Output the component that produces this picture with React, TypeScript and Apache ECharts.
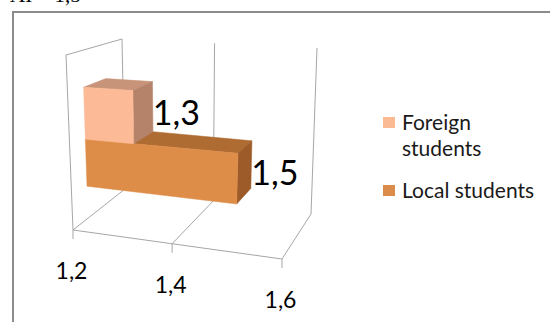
import React, { useEffect, useRef } from "react";
import * as echarts from "echarts";

// ---- data ----
const categories = ["Students"];
const seriesNames = ["Local students", "Foreign students"];
const localValues = [1.5];
const foreignValues = [1.3];
const axisTicks = [1.2, 1.4, 1.6];
const tickLabels = ["1,2", "1,4", "1,6"];
const legendLabels = ["Foreign\nstudents", "Local students"];
const headerText = "AI = 1,5";

// ---- 3D frame (screen corners of the plot box, [u][d][h]) ----
const BOX: number[][][][] = [
  [
    [[73, 230], [66, 55]],
    [[125, 189], [122, 39]],
  ],
  [
    [[282, 259], [291, 65]],
    [[311, 214], [317, 48]],
  ],
];
const DEPTH = [
  [1 / 175, 1 / 150],
  [1 / 194, 1 / 166],
];
function proj(u: number, d: number, h: number): number[] {
  let sx = 0, sy = 0, sw = 0;
  for (let iu = 0; iu < 2; iu++)
    for (let id = 0; id < 2; id++)
      for (let ih = 0; ih < 2; ih++) {
        const w =
          (iu ? u : 1 - u) * (id ? d : 1 - d) * (ih ? h : 1 - h) * DEPTH[iu][id];
        const p = BOX[iu][id][ih];
        sx += w * p[0];
        sy += w * p[1];
        sw += w;
      }
  return [sx / sw, sy / sw];
}

const GRID_COLOR = "#A6A6A6";
const FONT = "Lato, 'Open Sans', sans-serif";
const BAR_D0 = 0.26;
const BAR_D1 = 0.66;
const LAYERS = [
  { h0: 0.19, h1: 0.47, front: "#DE8D48", top: "#AE6C33", side: "#9C5B28" },
  { h0: 0.47, h1: 0.78, front: "#FCBB96", top: "#C79479", side: "#B5836A" },
];
const LEGEND_COLORS = ["#F9BA94", "#DC8C4A"];

function fmt(v: number) {
  return String(v).replace(".", ",");
}

export default function App() {
  const ref = useRef<HTMLDivElement>(null);
  useEffect(() => {
    if (!ref.current) return;
    const chart = echarts.init(ref.current, null, { renderer: "svg" });

    const uOf = (api: any, params: any, v: number) => {
      const cs = params.coordSys;
      return (api.coord([v, 0])[0] - cs.x) / cs.width;
    };

    const frameSeries = {
      type: "custom",
      name: "frame",
      coordinateSystem: "cartesian2d",
      clip: false,
      silent: true,
      z: 1,
      data: axisTicks.map((v) => [v, 0]),
      renderItem: (params: any, api: any) => {
        const u = uOf(api, params, api.value(0));
        const ls = { stroke: GRID_COLOR, lineWidth: 1, fill: null };
        const children: any[] = [];
        const line = (a: number[], b: number[]) =>
          children.push({
            type: "line",
            shape: { x1: a[0], y1: a[1], x2: b[0], y2: b[1] },
            style: ls,
          });
        line(proj(u, 1, 0), proj(u, 1, 1));
        line(proj(u, 0, 0), proj(u, 1, 0));
        const p = proj(u, 0, 0);
        line(p, [p[0], p[1] + 9]);
        children.push({
          type: "text",
          style: {
            text: tickLabels[params.dataIndex],
            x: p[0] - 1.5,
            y: p[1] + 40,
            align: "center",
            verticalAlign: "middle",
            font: `23px ${FONT}`,
            fill: "#000",
          },
        });
        if (params.dataIndex === 0) {
          const uEnd = uOf(api, params, axisTicks[axisTicks.length - 1]);
          line(proj(u, 0, 0), proj(u, 0, 1));
          line(proj(u, 0, 1), proj(u, 1, 1));
          line(proj(u, 0, 0), proj(uEnd, 0, 0));
        }
        return { type: "group", children };
      },
    };

    const barSeries = (name: string, values: number[], layer: any) => ({
      type: "custom",
      name,
      coordinateSystem: "cartesian2d",
      clip: false,
      z: 2,
      data: values.map((v, i) => [v, i]),
      renderItem: (params: any, api: any) => {
        const u0 = uOf(api, params, axisTicks[0]);
        const v = api.value(0);
        const u1 = uOf(api, params, v);
        const { h0, h1 } = layer;
        const poly = (pts: number[][], fill: string) => ({
          type: "polygon",
          shape: { points: pts },
          style: { fill, stroke: fill, lineWidth: 0.5 },
        });
        const top = poly(
          [proj(u0, BAR_D0, h1), proj(u1, BAR_D0, h1), proj(u1, BAR_D1, h1), proj(u0, BAR_D1, h1)],
          layer.top
        );
        const side = poly(
          [proj(u1, BAR_D0, h0), proj(u1, BAR_D0, h1), proj(u1, BAR_D1, h1), proj(u1, BAR_D1, h0)],
          layer.side
        );
        const front = poly(
          [proj(u0, BAR_D0, h0), proj(u1, BAR_D0, h0), proj(u1, BAR_D0, h1), proj(u0, BAR_D0, h1)],
          layer.front
        );
        const lx = proj(u1, BAR_D1, (h0 + h1) / 2)[0];
        const ly = proj(u1, (BAR_D0 + BAR_D1) / 2, (h0 + h1) / 2)[1];
        const label = {
          type: "text",
          style: {
            text: fmt(v),
            x: lx,
            y: ly,
            align: "left",
            verticalAlign: "middle",
            font: `34px ${FONT}`,
            fill: "#000",
          },
        };
        return { type: "group", children: [top, side, front, label] };
      },
    });

    const legendItems: any[] = [];
    legendLabels.forEach((t, i) => {
      const y = i === 0 ? 117 : 185;
      legendItems.push({
        type: "rect",
        shape: { x: 383, y, width: 12, height: 11 },
        style: { fill: LEGEND_COLORS[i] },
      });
      legendItems.push({
        type: "text",
        style: {
          text: t,
          x: 402,
          y: y - 9,
          font: `21px ${FONT}`,
          lineHeight: 26,
          fill: "#1a1a1a",
          verticalAlign: "top",
        },
      });
    });

    chart.setOption({
      animation: false,
      backgroundColor: "#fff",
      grid: { left: 73, width: 209, top: 50, height: 180 },
      xAxis: {
        type: "value",
        min: axisTicks[0],
        max: axisTicks[axisTicks.length - 1],
        interval: 0.2,
        show: false,
      },
      yAxis: { type: "category", data: categories, show: false },
      series: [
        frameSeries,
        barSeries(seriesNames[0], localValues, LAYERS[0]),
        barSeries(seriesNames[1], foreignValues, LAYERS[1]),
      ],
      graphic: [
        {
          type: "rect",
          shape: { x: 13, y: 12, width: 600, height: 400 },
          style: { fill: "none", stroke: "#8C8C8C", lineWidth: 2 },
          silent: true,
        },
        {
          type: "text",
          style: {
            text: headerText,
            x: 10,
            y: -5,
            verticalAlign: "middle",
            font: "21px 'Liberation Serif', serif",
            fill: "#000",
          },
        },
        ...legendItems,
      ],
    });
    return () => chart.dispose();
  }, []);
  return (
    <div
      style={{ position: "fixed", left: 0, top: 0, width: 550, height: 322, background: "#fff" }}
    >
      <div ref={ref} style={{ width: 550, height: 322 }} />
    </div>
  );
}
